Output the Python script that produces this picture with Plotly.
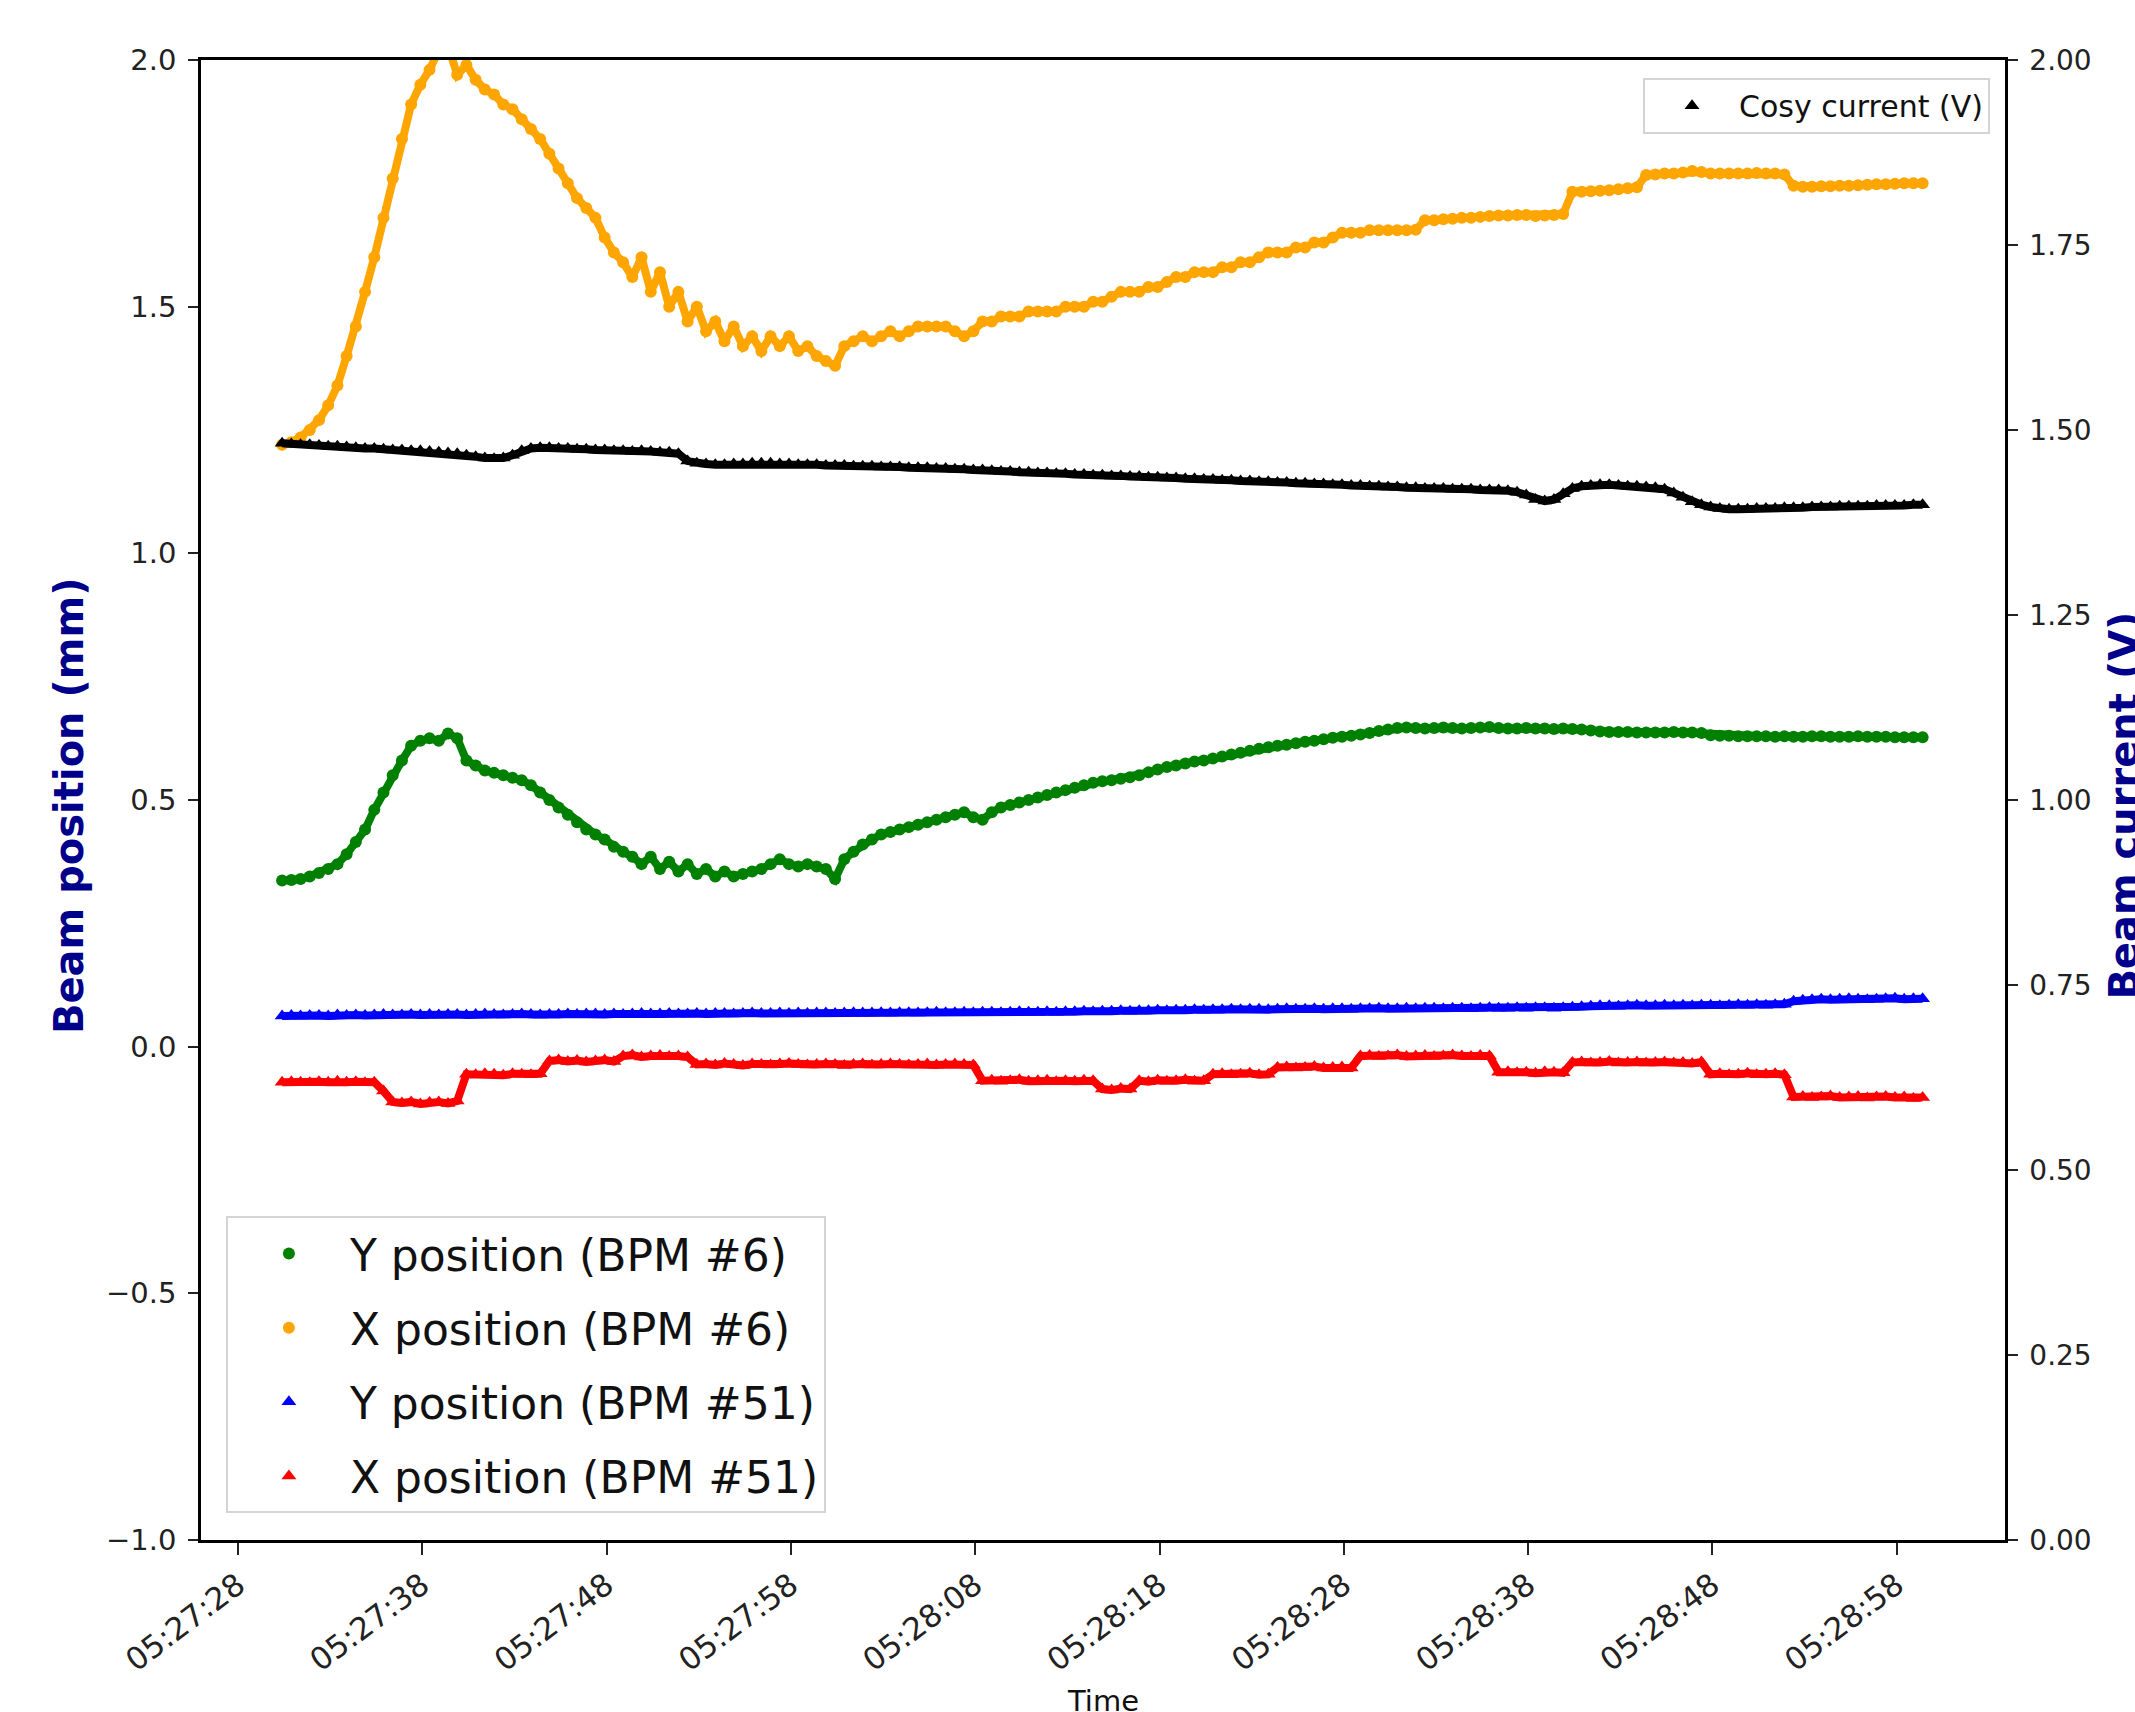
import pandas as pd
import plotly.graph_objects as go

# sample times (0.5 s sampling starting 05:27:30.4)
START = "2021-01-01 05:27:30.400"
N = 179

x_bpm6 = [1.22, 1.225, 1.235, 1.25, 1.27, 1.30, 1.34, 1.40, 1.46, 1.53,
          1.60, 1.68, 1.76, 1.84, 1.91, 1.95, 1.98, 2.02, 2.03, 1.97,
          1.99, 1.96, 1.94, 1.93, 1.91, 1.90, 1.88, 1.86, 1.84, 1.81,
          1.78, 1.75, 1.72, 1.70, 1.68, 1.64, 1.61, 1.59, 1.56, 1.60,
          1.53, 1.57, 1.50, 1.53, 1.47, 1.50, 1.45, 1.47, 1.43, 1.46,
          1.42, 1.44, 1.41, 1.44, 1.42, 1.44, 1.41, 1.42, 1.40, 1.39,
          1.38, 1.42, 1.43, 1.44, 1.43, 1.44, 1.45, 1.44, 1.45, 1.46,
          1.46, 1.46, 1.46, 1.45, 1.44, 1.45, 1.47, 1.47, 1.48, 1.48,
          1.48, 1.49, 1.49, 1.49, 1.49, 1.50, 1.50, 1.50, 1.51, 1.51,
          1.52, 1.53, 1.53, 1.53, 1.54, 1.54, 1.55, 1.56, 1.56, 1.57,
          1.57, 1.57, 1.58, 1.58, 1.59, 1.59, 1.60, 1.61, 1.61, 1.61,
          1.62, 1.62, 1.63, 1.63, 1.64, 1.65, 1.65, 1.65, 1.655, 1.655,
          1.655, 1.655, 1.655, 1.656, 1.675, 1.675, 1.677, 1.678, 1.68, 1.68,
          1.682, 1.684, 1.685, 1.685, 1.686, 1.686, 1.684, 1.685, 1.686, 1.688,
          1.733, 1.733, 1.734, 1.735, 1.736, 1.738, 1.74, 1.742, 1.767, 1.768,
          1.77, 1.77, 1.772, 1.775, 1.773, 1.77, 1.77, 1.77, 1.77, 1.77,
          1.771, 1.77, 1.77, 1.768, 1.745, 1.743, 1.743, 1.744, 1.744, 1.745,
          1.745, 1.746, 1.747, 1.748, 1.748, 1.749, 1.75, 1.75, 1.75]

y_bpm6 = [0.337, 0.338, 0.340, 0.345, 0.352, 0.36, 0.37, 0.39, 0.415, 0.44,
          0.48, 0.515, 0.55, 0.58, 0.61, 0.62, 0.625, 0.62, 0.635, 0.625,
          0.58, 0.57, 0.56, 0.555, 0.55, 0.545, 0.54, 0.53, 0.515, 0.50,
          0.485, 0.47, 0.455, 0.44, 0.43, 0.42, 0.405, 0.395, 0.385, 0.37,
          0.385, 0.36, 0.375, 0.355, 0.37, 0.35, 0.36, 0.345, 0.355, 0.345,
          0.35, 0.355, 0.36, 0.37, 0.38, 0.37, 0.365, 0.37, 0.365, 0.36,
          0.34, 0.38, 0.395, 0.41, 0.42, 0.43, 0.435, 0.44, 0.445, 0.45,
          0.455, 0.46, 0.465, 0.47, 0.475, 0.465, 0.46, 0.475, 0.485, 0.49,
          0.495, 0.50, 0.505, 0.51, 0.515, 0.52, 0.525, 0.53, 0.535, 0.538,
          0.54, 0.543, 0.546, 0.55, 0.556, 0.562, 0.567, 0.57, 0.574, 0.578,
          0.58, 0.584, 0.588, 0.592, 0.596, 0.60, 0.604, 0.607, 0.61, 0.612,
          0.615, 0.618, 0.62, 0.623, 0.626, 0.628, 0.63, 0.633, 0.636, 0.64,
          0.643, 0.646, 0.647, 0.646, 0.645, 0.646, 0.647, 0.646, 0.645, 0.646,
          0.647, 0.648, 0.646, 0.645, 0.645, 0.646, 0.645, 0.645, 0.644, 0.645,
          0.644, 0.643, 0.641, 0.639, 0.638, 0.638, 0.638, 0.637, 0.637, 0.637,
          0.637, 0.638, 0.637, 0.637, 0.636, 0.631, 0.630, 0.630, 0.629, 0.629,
          0.629, 0.629, 0.628, 0.629, 0.628, 0.628, 0.629, 0.629, 0.628, 0.628,
          0.628, 0.629, 0.628, 0.628, 0.628, 0.627, 0.627, 0.627, 0.627]

y_bpm51 = [0.062, 0.063, 0.062, 0.063, 0.063, 0.062, 0.064, 0.063, 0.064, 0.063,
           0.064, 0.065, 0.064, 0.064, 0.065, 0.064, 0.065, 0.064, 0.065, 0.065,
           0.064, 0.065, 0.066, 0.065, 0.064, 0.065, 0.066, 0.065, 0.064, 0.065,
           0.065, 0.066, 0.065, 0.066, 0.066, 0.065, 0.066, 0.065, 0.066, 0.067,
           0.066, 0.066, 0.067, 0.066, 0.066, 0.067, 0.066, 0.067, 0.067, 0.066,
           0.067, 0.068, 0.067, 0.067, 0.068, 0.067, 0.068, 0.067, 0.068, 0.068,
           0.067, 0.068, 0.069, 0.068, 0.068, 0.069, 0.068, 0.069, 0.069, 0.068,
           0.069, 0.070, 0.069, 0.069, 0.070, 0.069, 0.070, 0.070, 0.069, 0.070,
           0.071, 0.070, 0.070, 0.071, 0.070, 0.071, 0.071, 0.072, 0.071, 0.072,
           0.072, 0.073, 0.072, 0.073, 0.073, 0.074, 0.073, 0.074, 0.074, 0.075,
           0.074, 0.075, 0.075, 0.076, 0.075, 0.076, 0.076, 0.075, 0.076, 0.077,
           0.076, 0.076, 0.077, 0.076, 0.077, 0.077, 0.076, 0.077, 0.077, 0.078,
           0.077, 0.077, 0.078, 0.077, 0.078, 0.078, 0.077, 0.078, 0.078, 0.077,
           0.078, 0.079, 0.078, 0.078, 0.079, 0.078, 0.079, 0.079, 0.078, 0.079,
           0.080, 0.081, 0.082, 0.083, 0.083, 0.082, 0.083, 0.084, 0.083, 0.083,
           0.084, 0.083, 0.084, 0.083, 0.084, 0.084, 0.083, 0.084, 0.085, 0.084,
           0.085, 0.084, 0.085, 0.086, 0.092, 0.094, 0.095, 0.096, 0.095, 0.096,
           0.097, 0.096, 0.095, 0.096, 0.097, 0.098, 0.096, 0.097, 0.097]

x_bpm51 = [-0.072, -0.071, -0.072, -0.073, -0.071, -0.072, -0.070, -0.072, -0.071, -0.073,
           -0.072, -0.090, -0.112, -0.114, -0.112, -0.116, -0.113, -0.112, -0.115, -0.110,
           -0.056, -0.057, -0.055, -0.056, -0.058, -0.055, -0.056, -0.057, -0.055, -0.029,
           -0.027, -0.030, -0.028, -0.031, -0.029, -0.027, -0.030, -0.019, -0.017, -0.021,
           -0.019, -0.018, -0.020, -0.019, -0.021, -0.036, -0.035, -0.037, -0.034, -0.036,
           -0.038, -0.035, -0.036, -0.037, -0.035, -0.034, -0.036, -0.037, -0.036, -0.035,
           -0.036, -0.038, -0.036, -0.035, -0.037, -0.036, -0.035, -0.036, -0.037, -0.036,
           -0.035, -0.037, -0.036, -0.035, -0.036, -0.037, -0.069, -0.068, -0.070, -0.069,
           -0.067, -0.070, -0.069, -0.068, -0.071, -0.069, -0.070, -0.068, -0.069, -0.086,
           -0.088, -0.085, -0.086, -0.069, -0.071, -0.068, -0.070, -0.069, -0.067, -0.070,
           -0.069, -0.056, -0.055, -0.057, -0.056, -0.054, -0.057, -0.056, -0.042, -0.041,
           -0.043, -0.042, -0.040, -0.043, -0.042, -0.041, -0.043, -0.019, -0.018, -0.020,
           -0.019, -0.017, -0.020, -0.019, -0.018, -0.020, -0.019, -0.017, -0.019, -0.020,
           -0.018, -0.019, -0.052, -0.051, -0.053, -0.052, -0.054, -0.051, -0.052, -0.053,
           -0.032, -0.031, -0.033, -0.032, -0.030, -0.033, -0.032, -0.031, -0.033, -0.032,
           -0.031, -0.033, -0.032, -0.034, -0.031, -0.056, -0.055, -0.057, -0.056, -0.054,
           -0.057, -0.056, -0.055, -0.057, -0.102, -0.101, -0.103, -0.102, -0.100, -0.103,
           -0.102, -0.101, -0.104, -0.102, -0.101, -0.103, -0.102, -0.105, -0.103]

cosy_current = [1.482, 1.481, 1.480, 1.480, 1.479, 1.478, 1.478, 1.477, 1.476, 1.475,
                1.475, 1.474, 1.473, 1.473, 1.472, 1.472, 1.471, 1.470, 1.469, 1.468,
                1.466, 1.464, 1.462, 1.461, 1.462, 1.466, 1.472, 1.475, 1.476, 1.476,
                1.475, 1.475, 1.474, 1.474, 1.473, 1.473, 1.472, 1.472, 1.471, 1.472,
                1.471, 1.470, 1.470, 1.468, 1.458, 1.455, 1.454, 1.453, 1.453, 1.454,
                1.454, 1.455, 1.455, 1.455, 1.454, 1.454, 1.453, 1.453, 1.453, 1.452,
                1.452, 1.452, 1.451, 1.451, 1.451, 1.450, 1.450, 1.450, 1.449, 1.449,
                1.449, 1.448, 1.448, 1.447, 1.447, 1.446, 1.446, 1.445, 1.444, 1.444,
                1.443, 1.443, 1.442, 1.442, 1.441, 1.441, 1.440, 1.440, 1.439, 1.439,
                1.438, 1.438, 1.437, 1.437, 1.436, 1.436, 1.435, 1.435, 1.434, 1.434,
                1.433, 1.433, 1.432, 1.432, 1.431, 1.431, 1.430, 1.430, 1.429, 1.429,
                1.428, 1.428, 1.427, 1.427, 1.426, 1.426, 1.425, 1.425, 1.424, 1.424,
                1.423, 1.423, 1.422, 1.422, 1.421, 1.421, 1.421, 1.420, 1.420, 1.420,
                1.419, 1.419, 1.419, 1.418, 1.416, 1.412, 1.406, 1.404, 1.406, 1.414,
                1.421, 1.424, 1.425, 1.426, 1.426, 1.425, 1.424, 1.424, 1.423, 1.422,
                1.420, 1.415, 1.409, 1.403, 1.399, 1.396, 1.394, 1.393, 1.393, 1.393,
                1.394, 1.394, 1.394, 1.395, 1.395, 1.395, 1.396, 1.396, 1.396, 1.397,
                1.397, 1.397, 1.397, 1.398, 1.398, 1.398, 1.398, 1.399, 1.399]

left_ticks = [-1.0, -0.5, 0.0, 0.5, 1.0, 1.5, 2.0]
right_ticks = [0.0, 0.25, 0.5, 0.75, 1.0, 1.25, 1.5, 1.75, 2.0]

times = pd.date_range(start=START, periods=N, freq="500ms")

FONT = "DejaVu Sans, sans-serif"
NAVY = "#00008B"
TICKC = "#222222"

fig = go.Figure()
series = [
    ("Y position (BPM #6)", y_bpm6, "green", "circle", 12, "y"),
    ("X position (BPM #6)", x_bpm6, "orange", "circle", 12, "y"),
    ("Y position (BPM #51)", y_bpm51, "blue", "triangle-up", 13, "y"),
    ("X position (BPM #51)", x_bpm51, "red", "triangle-up", 13, "y"),
    ("Cosy current (V)", cosy_current, "black", "triangle-up", 13, "y2"),
]
for i, (name, vals, col, sym, sz, yax) in enumerate(series):
    # dense sampled points merge into a continuous band in the original
    fig.add_trace(go.Scatter(
        x=times, y=vals, mode="lines", line=dict(color=col, width=8),
        showlegend=False, hoverinfo="skip", yaxis=yax,
    ))
    fig.add_trace(go.Scatter(
        x=times, y=vals, name=name, mode="markers",
        marker=dict(color=col, symbol=sym, size=sz, line=dict(width=0)),
        legendgroup=f"g{i}",
        legend="legend2" if yax == "y2" else "legend", yaxis=yax,
    ))

fig.update_layout(
    width=2135, height=1712,
    margin=dict(l=201, r=130, t=60, b=172),
    paper_bgcolor="white", plot_bgcolor="white",
    font=dict(family=FONT, size=28, color=TICKC),
    xaxis=dict(
        type="date",
        range=["2021-01-01 05:27:26.0", "2021-01-01 05:29:03.87"],
        tick0="2021-01-01 05:27:28", dtick=10000, tickformat="%H:%M:%S",
        tickangle=-37, ticks="outside", ticklen=12, tickwidth=1.5,
        tickcolor=TICKC,
        showline=True, mirror=True, linecolor="black", linewidth=2.5,
        showgrid=False, zeroline=False,
        tickfont=dict(family=FONT, size=31, color=TICKC),
    ),
    yaxis=dict(
        range=[-1.0, 2.0], tickvals=left_ticks, tickformat=".1f",
        ticks="outside", ticklen=10, tickwidth=1.5, tickcolor=TICKC,
        ticklabelstandoff=6,
        showline=True, linecolor="black", linewidth=2.5,
        showgrid=False, zeroline=False,
        tickfont=dict(family=FONT, size=29, color=TICKC),
    ),
    yaxis2=dict(
        range=[0.0, 2.0], tickvals=right_ticks, tickformat=".2f",
        overlaying="y", side="right",
        ticks="outside", ticklen=10, tickwidth=1.5, tickcolor=TICKC,
        ticklabelstandoff=6,
        showline=True, linecolor="black", linewidth=2.5,
        showgrid=False, zeroline=False,
        tickfont=dict(family=FONT, size=28, color=TICKC),
    ),
    legend=dict(
        x=0.0138, y=0.018, xanchor="left", yanchor="bottom",
        bgcolor="white", bordercolor="#d4d4d4", borderwidth=2,
        font=dict(family=FONT, size=44, color="#111111"),
        tracegroupgap=14, traceorder="grouped", itemwidth=112,
    ),
    legend2=dict(
        x=0.9917, y=0.988, xanchor="right", yanchor="top",
        bgcolor="white", bordercolor="#d4d4d4", borderwidth=2,
        font=dict(family=FONT, size=30, color="#111111"),
        itemwidth=84,
    ),
    showlegend=True,
)

fig.add_annotation(
    text="<b>Beam position (mm)</b>", textangle=-90,
    xref="paper", yref="paper", x=-0.0731, y=0.496,
    xanchor="center", yanchor="middle", showarrow=False,
    font=dict(family=FONT, size=40, color=NAVY),
)
fig.add_annotation(
    text="<b>Beam current (V)</b>", textangle=-90,
    xref="paper", yref="paper", x=1.0658, y=0.496,
    xanchor="center", yanchor="middle", showarrow=False,
    font=dict(family=FONT, size=40, color=NAVY),
)
fig.add_annotation(
    text="Time",
    xref="paper", yref="paper", x=(1103 - 200) / 1806, y=-0.1087,
    xanchor="center", yanchor="middle", showarrow=False,
    font=dict(family=FONT, size=29, color="#111111"),
)

fig.write_html(
    "out.html",
    config={"displayModeBar": False},
    post_script="document.body.style.margin='0';document.body.style.overflow='hidden';",
)
